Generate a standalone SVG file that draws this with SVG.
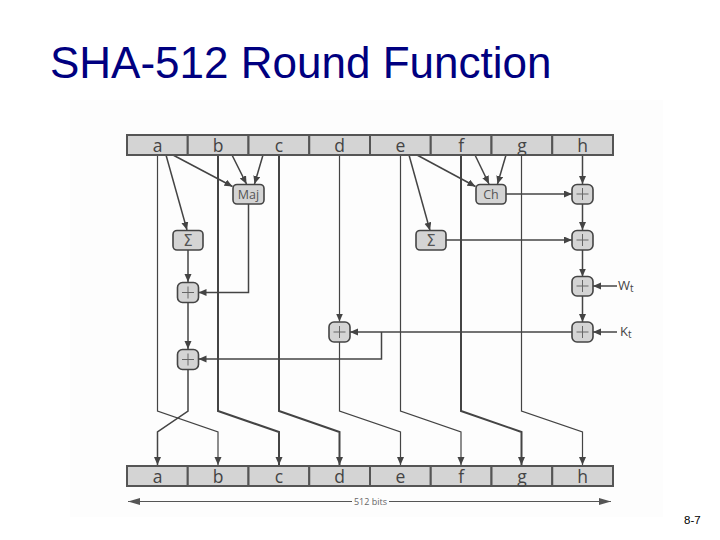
<svg xmlns="http://www.w3.org/2000/svg" width="720" height="540" viewBox="0 0 720 540">
<defs>
<marker id="arr" markerUnits="userSpaceOnUse" markerWidth="9" markerHeight="8" refX="8" refY="3.5" orient="auto">
<path d="M0,0 L8,3.5 L0,7 z" fill="#444"/>
</marker>
<marker id="arrBig" markerUnits="userSpaceOnUse" markerWidth="13" markerHeight="8" refX="12" refY="3.5" orient="auto">
<path d="M0,0 L12,3.5 L0,7 z" fill="#555"/>
</marker>
<style>
.cell{fill:#d4d4d4;stroke:#555;stroke-width:2}
.reg{font-family:"Open Sans","Liberation Sans",sans-serif;font-size:17.5px;fill:#444;text-anchor:middle}
.box{fill:#d4d4d4;stroke:#444;stroke-width:1.6}
.btxt{font-family:"Open Sans","Liberation Sans",sans-serif;font-size:12.5px;fill:#555;text-anchor:middle}
.sig{font-family:"DejaVu Sans","Liberation Sans",sans-serif;font-size:15px;fill:#555;text-anchor:middle}
.pl{stroke:#666;stroke-width:1;fill:none}
.thin{stroke:#444;stroke-width:1.2;fill:none}
.thick{stroke:#444;stroke-width:2;fill:none}
.mid{stroke:#444;stroke-width:1.5;fill:none}
.ar{marker-end:url(#arr)}
.lbl{font-family:"Open Sans","Liberation Sans",sans-serif;font-size:13px;fill:#444}
</style>
</defs>
<rect x="0" y="0" width="720" height="540" fill="#ffffff"/>
<rect x="70" y="100" width="593" height="417" fill="#fdfdfd"/>
<text x="50" y="78" font-family="Liberation Sans, Arial, sans-serif" font-size="44" fill="#000080">SHA-512 Round Function</text>

<g id="connectors">
<path class="thin ar" d="M157.5,155 V411 L218,432 V465"/>
<path class="thick ar" d="M218,155 V411 L279,432 V465"/>
<path class="thick ar" d="M279,155 V411 L339.5,432 V465"/>
<path class="thin ar" d="M339.5,155 V321.5"/>
<path class="thin ar" d="M339.5,342 V411 L400.5,432 V465"/>
<path class="thin ar" d="M400.5,155 V411 L461,432 V465"/>
<path class="thick ar" d="M461,155 V411 L521.5,432 V465"/>
<path class="thin ar" d="M521.5,155 V411 L582.5,432 V465"/>
<path class="mid ar" d="M582.5,155 V184"/>
<path class="mid ar" d="M188,369.5 V411 L157.5,432 V465"/>
<path class="mid ar" d="M166,155 L187,230"/>
<path class="mid ar" d="M173,155 L232.5,186.5"/>
<path class="mid ar" d="M232,155 L246.5,184"/>
<path class="mid ar" d="M263,155 L254.5,184"/>
<path class="mid ar" d="M188,250 V282"/>
<path class="mid ar" d="M248.5,204 V292.5 H198.5"/>
<path class="mid ar" d="M188,302.5 V349"/>
<path class="mid ar" d="M409,155 L430,230.5"/>
<path class="mid ar" d="M417,155 L475.5,186.5"/>
<path class="mid ar" d="M475,155 L489,184"/>
<path class="mid ar" d="M506,155 L497.5,184"/>
<path class="mid ar" d="M506,194 H572"/>
<path class="mid ar" d="M446,240 H572"/>
<path class="mid ar" d="M582.5,204 V230"/>
<path class="mid ar" d="M582.5,250 V276.5"/>
<path class="mid ar" d="M582.5,296 V322"/>
<path class="mid ar" d="M617,286 H593"/>
<path class="mid ar" d="M617,332 H593"/>
<path class="mid ar" d="M572,332 H350"/>
<path class="mid ar" d="M381.5,332 V359 H198.5"/>
<path d="M352,501.5 H128" stroke="#555" stroke-width="1" fill="none" marker-end="url(#arrBig)"/>
<path d="M389,501.5 H611" stroke="#555" stroke-width="1" fill="none" marker-end="url(#arrBig)"/>
</g>

<g id="in-a"><rect class="cell" x="127" y="135" width="60.75" height="20"/><text class="reg" x="157.7" y="151.5">a</text></g>
<g id="in-b"><rect class="cell" x="187.75" y="135" width="60.75" height="20"/><text class="reg" x="218.1" y="151.5">b</text></g>
<g id="in-c"><rect class="cell" x="248.5" y="135" width="60.75" height="20"/><text class="reg" x="278.9" y="151.5">c</text></g>
<g id="in-d"><rect class="cell" x="309.25" y="135" width="60.75" height="20"/><text class="reg" x="339.6" y="151.5">d</text></g>
<g id="in-e"><rect class="cell" x="370" y="135" width="60.75" height="20"/><text class="reg" x="400.4" y="151.5">e</text></g>
<g id="in-f"><rect class="cell" x="430.75" y="135" width="60.75" height="20"/><text class="reg" x="461.1" y="151.5">f</text></g>
<g id="in-g"><rect class="cell" x="491.5" y="135" width="60.75" height="20"/><text class="reg" x="521.9" y="151.5">g</text></g>
<g id="in-h"><rect class="cell" x="552.25" y="135" width="60.75" height="20"/><text class="reg" x="582.6" y="151.5">h</text></g>

<g id="out-a"><rect class="cell" x="127" y="466" width="60.75" height="20"/><text class="reg" x="157.7" y="482.5">a</text></g>
<g id="out-b"><rect class="cell" x="187.75" y="466" width="60.75" height="20"/><text class="reg" x="218.1" y="482.5">b</text></g>
<g id="out-c"><rect class="cell" x="248.5" y="466" width="60.75" height="20"/><text class="reg" x="278.9" y="482.5">c</text></g>
<g id="out-d"><rect class="cell" x="309.25" y="466" width="60.75" height="20"/><text class="reg" x="339.6" y="482.5">d</text></g>
<g id="out-e"><rect class="cell" x="370" y="466" width="60.75" height="20"/><text class="reg" x="400.4" y="482.5">e</text></g>
<g id="out-f"><rect class="cell" x="430.75" y="466" width="60.75" height="20"/><text class="reg" x="461.1" y="482.5">f</text></g>
<g id="out-g"><rect class="cell" x="491.5" y="466" width="60.75" height="20"/><text class="reg" x="521.9" y="482.5">g</text></g>
<g id="out-h"><rect class="cell" x="552.25" y="466" width="60.75" height="20"/><text class="reg" x="582.6" y="482.5">h</text></g>

<g id="maj"><rect class="box" x="233" y="184.5" width="31" height="19.5" rx="4"/><text class="btxt" x="248.5" y="198.7">Maj</text></g>
<g id="ch"><rect class="box" x="476" y="184.5" width="30" height="19.5" rx="4"/><text class="btxt" x="491" y="198.7">Ch</text></g>
<g id="sigma0"><rect class="box" x="173" y="230.5" width="30" height="19.5" rx="4"/><text class="sig" x="188" y="245.5">Σ</text></g>
<g id="sigma1"><rect class="box" x="416" y="230.5" width="30" height="19.5" rx="4"/><text class="sig" x="431" y="245.5">Σ</text></g>

<g id="add-a1"><rect class="box" x="177.5" y="282.5" width="21" height="20" rx="5"/><path class="pl" d="M182,292.5 H194 M188,286.5 V298.5"/></g>
<g id="add-a2"><rect class="box" x="177.5" y="349.5" width="21" height="20" rx="5"/><path class="pl" d="M182,359.5 H194 M188,353.5 V365.5"/></g>
<g id="add-d"><rect class="box" x="329" y="322" width="21" height="20" rx="5"/><path class="pl" d="M333.5,332 H345.5 M339.5,326 V338"/></g>
<g id="add-h1"><rect class="box" x="572" y="184.5" width="21" height="19.5" rx="5"/><path class="pl" d="M576.5,194 H588.5 M582.5,188 V200"/></g>
<g id="add-h2"><rect class="box" x="572" y="230.5" width="21" height="19.5" rx="5"/><path class="pl" d="M576.5,240 H588.5 M582.5,234 V246"/></g>
<g id="add-h3"><rect class="box" x="572" y="276.5" width="21" height="19.5" rx="5"/><path class="pl" d="M576.5,286 H588.5 M582.5,280 V292"/></g>
<g id="add-h4"><rect class="box" x="572" y="322" width="21" height="20" rx="5"/><path class="pl" d="M576.5,332 H588.5 M582.5,326 V338"/></g>

<g id="wt"><text class="lbl" x="618" y="290">W<tspan font-size="10" dy="2">t</tspan></text></g>
<g id="kt"><text class="lbl" x="620" y="336">K<tspan font-size="10" dy="2">t</tspan></text></g>
<text x="370.5" y="504.5" font-family="Open Sans, Liberation Sans, sans-serif" font-size="9" fill="#666" text-anchor="middle">512 bits</text>
<text x="684" y="524" font-family="Liberation Sans, Arial, sans-serif" font-size="11.5" fill="#000">8-7</text>
</svg>
